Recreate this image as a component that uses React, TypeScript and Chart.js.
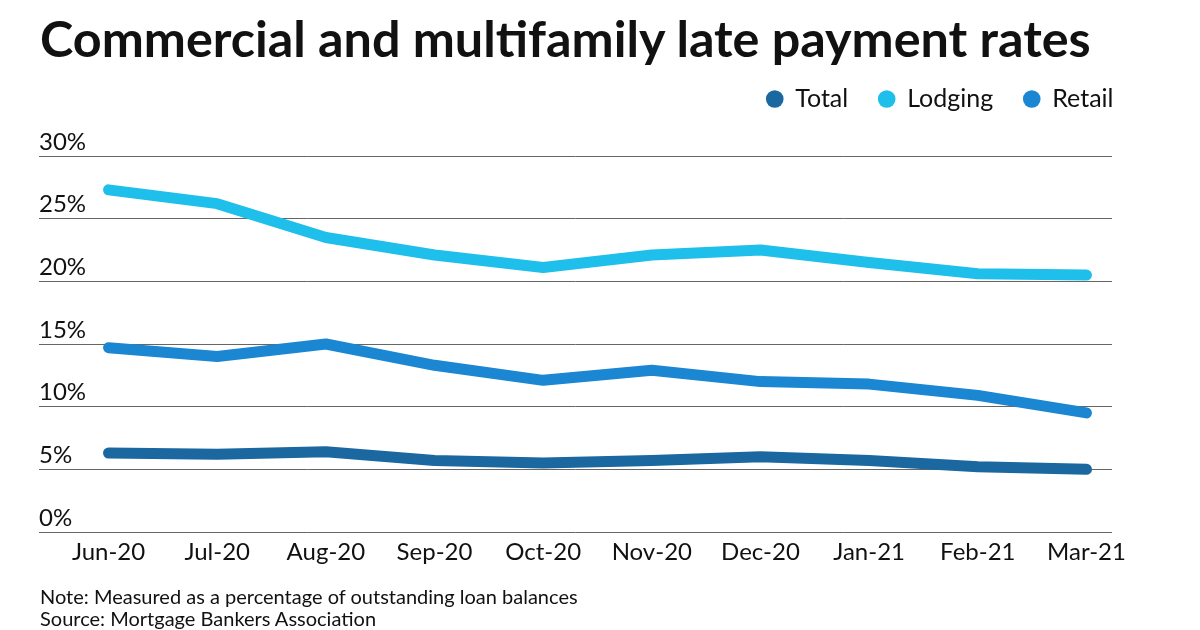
import React, { useEffect, useRef } from "react";
import { Chart, registerables } from "chart.js";

Chart.register(...registerables);

const months = ["Jun-20", "Jul-20", "Aug-20", "Sep-20", "Oct-20", "Nov-20", "Dec-20", "Jan-21", "Feb-21", "Mar-21"];
const total = [6.3, 6.2, 6.4, 5.7, 5.5, 5.7, 6.0, 5.7, 5.2, 5.0];
const lodging = [27.3, 26.2, 23.5, 22.1, 21.1, 22.1, 22.5, 21.5, 20.6, 20.5];
const retail = [14.7, 14.0, 15.0, 13.3, 12.1, 12.9, 12.0, 11.8, 10.9, 9.5];
const yTicks = [0, 5, 10, 15, 20, 25, 30];

const C_TOTAL = "#1b679f";
const C_LODGING = "#1ebfea";
const C_RETAIL = "#1b86d1";
const TEXT = "#111111";

export default function App() {
  const ref = useRef<HTMLCanvasElement | null>(null);

  useEffect(() => {
    if (!ref.current) return;
    const mk = (label: string, vals: number[], color: string) => ({
      label,
      data: vals.map((v, i) => ({ x: i, y: v })),
      borderColor: color,
      backgroundColor: color,
      pointBackgroundColor: color,
      pointBorderColor: color,
      pointBorderWidth: 0,
      pointRadius: 0,
      borderWidth: 11,
      borderCapStyle: "round" as const,
      borderJoinStyle: "round" as const,
      tension: 0,
      fill: false,
    });
    const tickFont = { family: "Lato", size: 24 };
    const chart = new Chart(ref.current, {
      type: "line",
      data: {
        datasets: [
          mk("Total", total, C_TOTAL),
          mk("Lodging", lodging, C_LODGING),
          mk("Retail", retail, C_RETAIL),
        ],
      },
      options: {
        animation: false,
        responsive: false,
        devicePixelRatio: 1,
        layout: { padding: { left: 39, right: 56, top: 56, bottom: 58 } },
        plugins: {
          legend: {
            position: "top",
            align: "end",
            labels: {
              usePointStyle: true,
              pointStyle: "circle",
              boxWidth: 16,
              boxHeight: 12.5,
              padding: 30.5,
              color: TEXT,
              font: { family: "Lato", size: 25 },
            },
          },
          tooltip: { enabled: false },
          title: { display: false },
        },
        scales: {
          x: {
            type: "linear",
            min: -0.64,
            max: 9.235,
            grid: { display: false },
            border: { display: false },
            afterBuildTicks: (s: any) => {
              s.ticks = months.map((_, i) => ({ value: i }));
            },
            afterFit: (s: any) => {
              s.height = 40;
            },
            ticks: {
              autoSkip: false,
              maxRotation: 0,
              padding: -2,
              color: TEXT,
              font: tickFont,
              callback: (v: any) => months[Math.round(Number(v))] ?? "",
            },
          },
          xTop: {
            type: "linear",
            position: "top",
            display: true,
            grid: { display: false },
            border: { display: false },
            ticks: { display: false },
            afterFit: (s: any) => {
              s.height = 34.5;
            },
          },
          y: {
            type: "linear",
            min: 0,
            max: 30,
            afterBuildTicks: (s: any) => {
              s.ticks = yTicks.map((v) => ({ value: v }));
            },
            afterFit: (s: any) => {
              s.width = 0;
            },
            grid: { color: "#666666", lineWidth: 1, drawTicks: false },
            border: { display: false },
            ticks: {
              mirror: true,
              padding: 0,
              labelOffset: -14,
              color: TEXT,
              font: tickFont,
              callback: (v: any) => `${v}%`,
            },
          },
          y2: {
            type: "linear",
            position: "right",
            display: true,
            grid: { display: false },
            border: { display: false },
            ticks: { display: false },
            afterFit: (s: any) => {
              s.width = 32;
            },
          },
        },
      } as any,
    });
    return () => chart.destroy();
  }, []);

  return (
    <div
      style={{
        position: "fixed",
        left: 0,
        top: 0,
        width: 1200,
        height: 630,
        background: "#ffffff",
        overflow: "hidden",
        fontFamily: "Lato, sans-serif",
        color: TEXT,
      }}
    >
      <canvas
        ref={ref}
        width={1200}
        height={630}
        style={{ position: "absolute", left: 0, top: 0, width: 1200, height: 630 }}
      />
      <div
        style={{
          position: "absolute",
          left: 40,
          top: 13,
          fontSize: 50.3,
          fontWeight: 700,
          lineHeight: 1,
          whiteSpace: "nowrap",
        }}
      >
        Commercial and multifamily late payment rates
      </div>
      <div
        style={{
          position: "absolute",
          left: 40,
          top: 585,
          fontSize: 20,
          lineHeight: "22px",
          whiteSpace: "nowrap",
        }}
      >
        <div>Note: Measured as a percentage of outstanding loan balances</div>
        <div>Source: Mortgage Bankers Association</div>
      </div>
    </div>
  );
}
